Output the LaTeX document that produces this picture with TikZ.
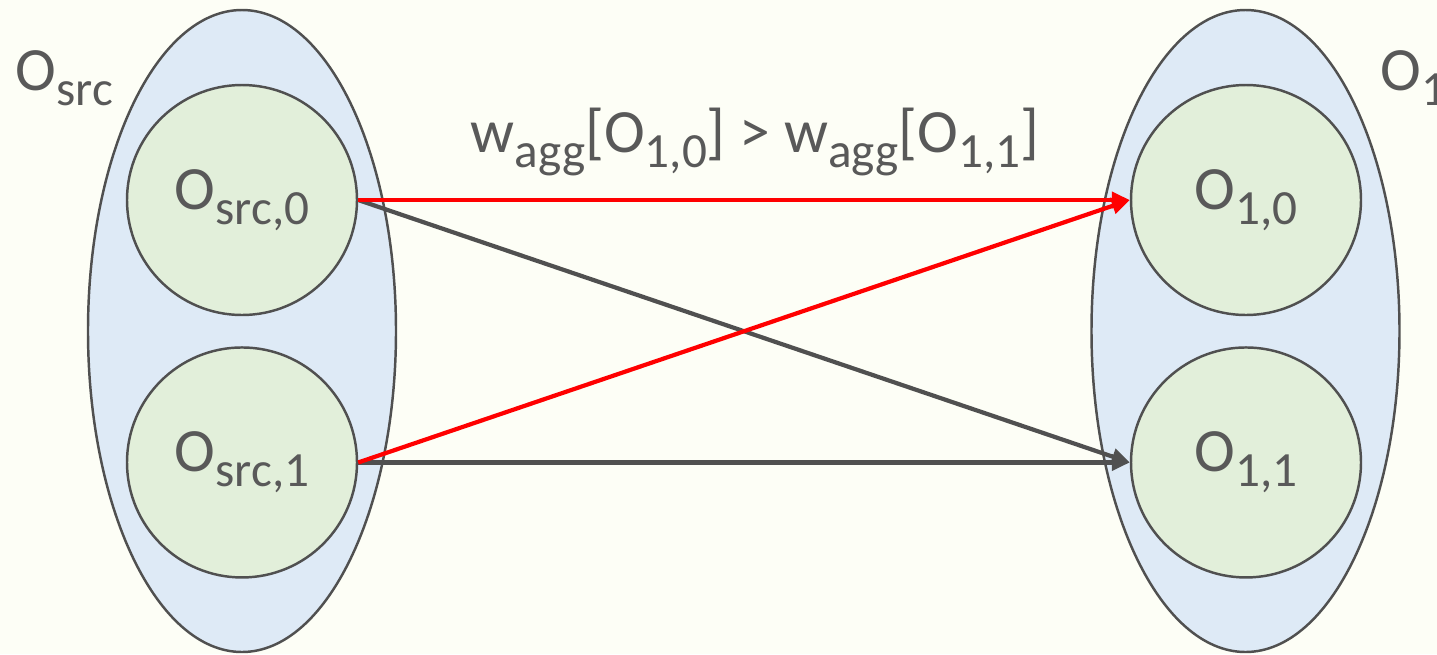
\documentclass[tikz,border=0pt]{standalone}
\usepackage{fontspec}
\setmainfont{Carlito}
\usetikzlibrary{
  arrows.meta,
  positioning,
  shapes.geometric
}
\definecolor{aggInk}{HTML}{595959}
\definecolor{aggLine}{HTML}{505050}
\definecolor{aggBlue}{HTML}{DEEAF6}
\definecolor{aggGreen}{HTML}{E2EFDA}
\definecolor{aggRed}{HTML}{FF0000}
\definecolor{aggPaper}{HTML}{FDFEF6}
\newcommand{\lo}[1]{\raisebox{-4.3pt}{\fontsize{14}{14}\selectfont #1}}
\tikzset{
  every node/.style={font=\fontsize{17.5}{20}\selectfont, text=aggInk},
  group/.style={
    ellipse,
    draw=aggLine,
    line width=0.7pt,
    fill=aggBlue,
    minimum width=3.08cm,
    minimum height=6.42cm,
    inner sep=0pt
  },
  op/.style={
    circle,
    draw=aggLine,
    line width=0.7pt,
    fill=aggGreen,
    minimum size=2.3cm,
    inner sep=0pt
  },
  wire/.style={
    -{Triangle[length=1.8mm,width=1.6mm]},
    line width=1.2pt,
    draw=aggLine
  },
  hotwire/.style={
    wire,
    draw=aggRed
  }
}

\begin{document}
\begin{tikzpicture}[x=1cm,y=1cm]
  \fill[aggPaper] (0,0) rectangle (14.37,6.54);
  \useasboundingbox (0,0) rectangle (14.37,6.54);
  \clip (0,0) rectangle (14.37,6.54);

  % operator groups
  \node[group] (src) at (2.42,3.23) {};
  \node[group] (dst) at (12.455,3.23) {};

  \node[op] (src0) at (2.42,4.54) {O\lo{src,0}};
  \node[op, below=0.3cm of src0] (src1) {O\lo{src,1}};
  \node[op] (dst0) at (12.46,4.54) {O\lo{1,0}};
  \node[op, below=0.3cm of dst0] (dst1) {O\lo{1,1}};

  \node[anchor=base west, inner sep=0pt] (srclab) at (0.15,5.64) {O\lo{src}};
  \node[anchor=base west, inner sep=0pt] (dstlab) at (13.80,5.64) {O\lo{1}};
  \node[anchor=base, inner sep=0pt] (cond) at (7.55,5.02)
    {w\lo{agg}[O\lo{1,0}] > w\lo{agg}[O\lo{1,1}]};

  % links
  \draw[wire] (src0.east) -- (dst1.west);
  \draw[wire] (src1.east) -- (dst1.west);
  \draw[hotwire] (src0.east) -- (dst0.west);
  \draw[hotwire] (src1.east) -- (dst0.west);
\end{tikzpicture}
\end{document}
